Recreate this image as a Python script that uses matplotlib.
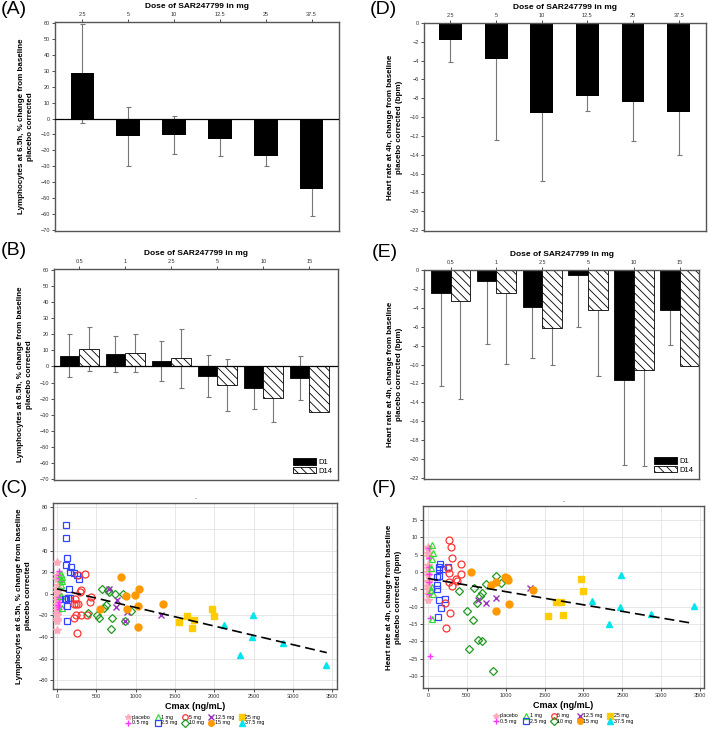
import numpy as np
import matplotlib
matplotlib.use("Agg")
import matplotlib.pyplot as plt
from matplotlib.lines import Line2D

# ---- bar panel data ----
doses_a = ["2.5", "5", "10", "12.5", "25", "37.5"]
lymph_a = [28.5, -11, -10.5, -13, -23.5, -44]
lymph_a_err = [31, 18.5, 12, 10.5, 6, 17]
hr_d = [-1.85, -3.8, -9.55, -7.8, -8.4, -9.45]
hr_d_err = [2.3, 8.6, 7.2, 1.6, 4.1, 4.6]

doses_b = ["0.5", "1", "2.5", "5", "10", "15"]
lymph_b_d1 = [6.7, 7.9, 3.2, -6.1, -13.6, -7.0]
lymph_b_d1_err = [13.3, 11.2, 12.3, 13.0, 12.8, 13.7]
lymph_b_d14 = [11.0, 8.5, 5.0, -11.7, -19.6, -28.3]
lymph_b_d14_err = [13.8, 11.8, 18.5, 16.2, 15.2, np.nan]
hr_e_d1 = [-2.4, -1.2, -3.9, -0.55, -11.6, -4.2]
hr_e_d1_err = [9.9, 6.65, 5.4, 5.5, 9.0, 3.7]
hr_e_d14 = [-3.3, -2.4, -6.1, -4.25, -10.6, -10.1]
hr_e_d14_err = [10.3, 7.5, 3.9, 7.0, 10.1, np.nan]

# ---- scatter data (Cmax ng/mL, change) ----
groups = ["placebo", "0.5 mg", "1 mg", "2.5 mg", "5 mg", "10 mg", "12.5 mg", "15 mg", "25 mg", "37.5 mg"]
colors = ["#ffaabb", "#ff33ff", "#33dd33", "#3344ff", "#ff3333", "#229922", "#9933bb", "#ff9900", "#ffcc00", "#00e5ee"]
markers = ["*", "+", "^", "s", "o", "D", "x", "o", "s", "^"]
filled = [True, True, False, False, False, False, True, True, True, True]

c_x = {
    "placebo": [0, 5, 2, 8, 0, 4, 10, 0, 6, 3, 0, 7, 2, 5, 0, 4, 1],
    "0.5 mg": [25, 30, 20, 35, 22, 28, 30, 18, 32, 26],
    "1 mg": [55, 60, 50, 62, 58, 52, 65],
    "2.5 mg": [119, 115, 128, 115, 179, 170, 213, 260, 277, 149, 140, 119, 98, 132, 132, 162],
    "5 mg": [362, 268, 307, 298, 272, 247, 230, 439, 426, 247, 302, 217, 383, 260, 213],
    "10 mg": [579, 652, 660, 737, 835, 622, 600, 396, 503, 532, 694, 686, 869, 937],
    "12.5 mg": [664, 758, 746, 869, 895, 1325],
    "15 mg": [818, 878, 993, 1048, 1027, 545, 890, 1031, 1350],
    "25 mg": [1551, 1657, 1743, 1717, 1977, 2002],
    "37.5 mg": [2125, 2491, 2479, 2330, 2879, 3423],
}
c_y = {
    "placebo": [29, 17, 14, 8, 5, 2, 0, -3, -6, -9, -12, -15, -18, -20, -23, -25, -33],
    "0.5 mg": [21, 17, 15, 12, -3, -5, -8, -10, -12, -14],
    "1 mg": [18, 16, 14, 12, 8, -2, -13],
    "2.5 mg": [63.5, 52, 33, 27, 25, 20, 19, 17.6, 13.7, 4.6, -4, -4.5, -5, -11, -25, -4],
    "5 mg": [18.5, 17.6, 4, 1.5, -9, -9, -4.5, -2.7, -8, -20, -20, -22, -20, -36.5, -9],
    "10 mg": [4.6, 3.6, 1.8, 0.3, -0.6, -10.6, -13.4, -18, -20, -22.8, -22.8, -32.5, -25, -15.8],
    "12.5 mg": [4.6, -6, -12, -25, -16.7, -20],
    "15 mg": [16, -2, -1.2, 4.8, -11, -13.7, -14.3, -31, -9.7],
    "25 mg": [-26.4, -20.7, -24, -31.6, -14.3, -20.4],
    "37.5 mg": [-28.9, -20, -39.5, -56.8, -45.3, -66],
}
f_x = {
    "placebo": [0, 4, 2, 6, 0, 3, 8, 1, 5, 0, 3, 6, 2, 4],
    "0.5 mg": [15, 20, 15, 10, 15, 20, 25, 30],
    "1 mg": [51, 64, 51, 42, 55, 47, 64, 55],
    "2.5 mg": [153, 148, 140, 191, 114, 148, 119, 114, 140, 220, 170, 127, 254],
    "5 mg": [276, 297, 305, 424, 259, 267, 428, 360, 377, 267, 305, 216, 284, 229],
    "10 mg": [878, 937, 750, 403, 594, 691, 665, 628, 509, 585, 649, 691, 530, 835],
    "12.5 mg": [645, 750, 878, 1314],
    "15 mg": [551, 806, 878, 988, 1018, 1026, 1047, 882, 1348],
    "25 mg": [1963, 1993, 1642, 1706, 1539, 1736],
    "37.5 mg": [2478, 2113, 2470, 2324, 2873, 3418],
}
f_y = {
    "placebo": [7.3, 6.5, 5.5, 4.5, 2, 1, 0, -1, -2.5, -3, -4, -5, -6.5, -8.2],
    "0.5 mg": [7, 4, 1.5, -0.5, -3, -6.5, -13.3, -24.4],
    "1 mg": [7.7, 5.5, 3.6, 1, -4.3, -5.2, -6.5, -13.7],
    "2.5 mg": [2.4, 1.4, 0.7, 0.9, -1.6, -1.2, -3.7, -4.9, -8, -7.8, -10.3, -13, 1.4],
    "5 mg": [9.3, 7.3, 4, 2.4, 1.2, -0.2, -0.7, -2.1, -2.7, -2.8, -4.2, -9.1, -11.9, -16.3],
    "10 mg": [-1.3, -3.1, -3.5, -5.4, -4.7, -6, -6.9, -9.1, -11.3, -14, -19.6, -20, -22.2, -28.6],
    "12.5 mg": [-8, -9.1, -7.6, -4.7],
    "15 mg": [0.1, -3.7, -2.8, -1.6, -1.7, -2.3, -9.2, -11.3, -5.2],
    "25 mg": [-2.1, -5.4, -8.8, -8.8, -12.8, -12.4],
    "37.5 mg": [-1.0, -8.5, -10.2, -15.1, -12.1, -9.8],
}
# trend lines: intercept, slope, x range
trend_c = (4.6, -0.0172, 0, 3430)
trend_f = (-1.9, -0.0038, 0, 3420)

lab_lym = "Lymphocytes at 6.5h, % change from baseline\nplacebo corrected"
lab_hr = "Heart rate at 4h, change from baseline\nplacebo corrected (bpm)"
top_lab = "Dose of SAR247799 in mg"

plt.rcParams['font.family'] = ['Liberation Sans', 'DejaVu Sans']
plt.rcParams['hatch.linewidth'] = 0.6

W, H = 709, 729
fig = plt.figure(figsize=(W / 100, H / 100), dpi=100)


def box(l, r, t, b):
    return [l / W, 1 - b / H, (r - l) / W, (b - t) / H]


spine_col = "#555555"
err_kw = dict(ecolor="#777777", elinewidth=0.8, capsize=1.8, capthick=0.8)
ylab_kw = dict(fontsize=5.8, fontweight="bold", labelpad=5, linespacing=1.3)


def style_bar_ax(ax, labels, ylabel):
    ax.xaxis.tick_top()
    ax.xaxis.set_label_position("top")
    ax.set_xticks(range(len(labels)))
    ax.set_xticklabels(labels)
    ax.set_xlabel(top_lab, fontsize=6, fontweight="bold", labelpad=3)
    ax.set_ylabel(ylabel, **ylab_kw)
    ax.tick_params(labelsize=4, length=2, width=0.6, colors="#333333", pad=1.5)
    for s in ax.spines.values():
        s.set_color(spine_col)
        s.set_linewidth(1.0)


# (A)
ax = fig.add_axes(box(55, 339, 22, 231))
x = np.arange(len(doses_a))
ax.errorbar(x, lymph_a, yerr=lymph_a_err, fmt="none", zorder=1, **err_kw)
ax.bar(x, lymph_a, width=0.52, color="black", zorder=2)
ax.axhline(0, color="black", lw=0.9, zorder=3)
ax.set_xlim(-0.6, 5.6)
ax.set_ylim(-70.5, 60.5)
ax.set_yticks(np.arange(-70, 61, 10))
style_bar_ax(ax, doses_a, lab_lym)

# (D)
ax = fig.add_axes(box(424, 706, 23, 231))
ax.errorbar(x, hr_d, yerr=hr_d_err, fmt="none", zorder=1, **err_kw)
ax.bar(x, hr_d, width=0.5, color="black", zorder=2)
ax.set_xlim(-0.58, 5.6)
ax.set_ylim(-22.1, 0)
ax.set_yticks(np.arange(-22, 1, 2))
style_bar_ax(ax, doses_a, lab_hr)


def grouped(ax, d1, d1e, d14, d14e):
    xb = np.arange(len(doses_b))
    w = 0.43
    ax.errorbar(xb - w / 2, d1, yerr=d1e, fmt="none", zorder=1, **err_kw)
    ax.errorbar(xb + w / 2, d14, yerr=d14e, fmt="none", zorder=1, **err_kw)
    b1 = ax.bar(xb - w / 2, d1, width=w, color="black", edgecolor="black", lw=0.6, zorder=2, label="D1")
    b2 = ax.bar(xb + w / 2, d14, width=w, color="white", edgecolor="black", hatch="\\\\\\\\", lw=0.6, zorder=2, label="D14")
    ax.legend(handles=[b1, b2], loc="lower right", fontsize=5.5, frameon=False,
              handlelength=3, handleheight=0.9, labelspacing=0.1, borderpad=0.2, handletextpad=0.3)


# (B)
ax = fig.add_axes(box(54, 338, 269, 480))
grouped(ax, lymph_b_d1, lymph_b_d1_err, lymph_b_d14, lymph_b_d14_err)
ax.axhline(0, color="black", lw=0.9, zorder=3)
ax.set_xlim(-0.55, 5.62)
ax.set_ylim(-70.5, 60.5)
ax.set_yticks(np.arange(-70, 61, 10))
style_bar_ax(ax, doses_b, lab_lym)

# (E)
ax = fig.add_axes(box(424, 699, 270, 479))
grouped(ax, hr_e_d1, hr_e_d1_err, hr_e_d14, hr_e_d14_err)
ax.set_xlim(-0.58, 5.42)
ax.set_ylim(-22.1, 0)
ax.set_yticks(np.arange(-22, 1, 2))
style_bar_ax(ax, doses_b, lab_hr)


def scatter_panel(ax, xs, ys, trend, ylabel):
    handles = []
    for g, c, m, f in zip(groups, colors, markers, filled):
        size = 6 if m == "*" else 5
        if m in ("+", "x"):
            kw = dict(color=c, markeredgewidth=1.0)
        elif f:
            kw = dict(color=c, markerfacecolor=c, markeredgecolor=c)
        else:
            kw = dict(color=c, markerfacecolor="none", markeredgecolor=c, markeredgewidth=0.9)
        if m == "D":
            size = 4.2
        ax.plot(xs[g], ys[g], linestyle="none", marker=m, markersize=size, zorder=3, **kw)
        handles.append(Line2D([], [], linestyle="none", marker=m, markersize=4, label=g, **kw))
    a, b, x0, x1 = trend
    tx = np.array([x0, x1])
    ax.plot(tx, a + b * tx, color="black", ls=(0, (6, 3)), lw=1.2, zorder=4)
    ax.set_xticks(np.arange(0, 3501, 500))
    ax.grid(True, color="#e3e3e3", lw=0.6)
    ax.set_axisbelow(True)
    ax.set_xlabel("Cmax (ng/mL)", fontsize=6.5, fontweight="bold", labelpad=2)
    ax.set_ylabel(ylabel, **ylab_kw)
    ax.set_title(".", fontsize=5, pad=3)
    ax.tick_params(labelsize=4, length=2, width=0.6, colors="#333333", pad=1.5)
    for s in ax.spines.values():
        s.set_color(spine_col)
        s.set_linewidth(1.0)
    ax.legend(handles=handles, ncol=5, loc="upper center", bbox_to_anchor=(0.5, -0.125),
              fontsize=3.8, frameon=False, handlelength=1, columnspacing=0.9,
              handletextpad=0.2, labelspacing=0.1, borderpad=0)


# (C)
ax = fig.add_axes(box(53, 337, 503, 689))
scatter_panel(ax, c_x, c_y, trend_c, lab_lym)
ax.set_xlim(-50, 3560)
ax.set_ylim(-88, 84)
ax.set_yticks(np.arange(-80, 81, 20))

# (F)
ax = fig.add_axes(box(423, 704, 506, 688))
scatter_panel(ax, f_x, f_y, trend_f, lab_hr)
ax.set_xlim(-62, 3550)
ax.set_ylim(-33.5, 19)
ax.set_yticks(np.arange(-30, 16, 5))

for lab, px, py in [("(A)", 1, 1), ("(D)", 370, 1), ("(B)", 1, 242), ("(E)", 372, 244), ("(C)", 1, 480), ("(F)", 372, 480)]:
    fig.text(px / W, 1 - py / H, lab, fontsize=14, va="top", ha="left")

fig.savefig("out.png", dpi=100)
